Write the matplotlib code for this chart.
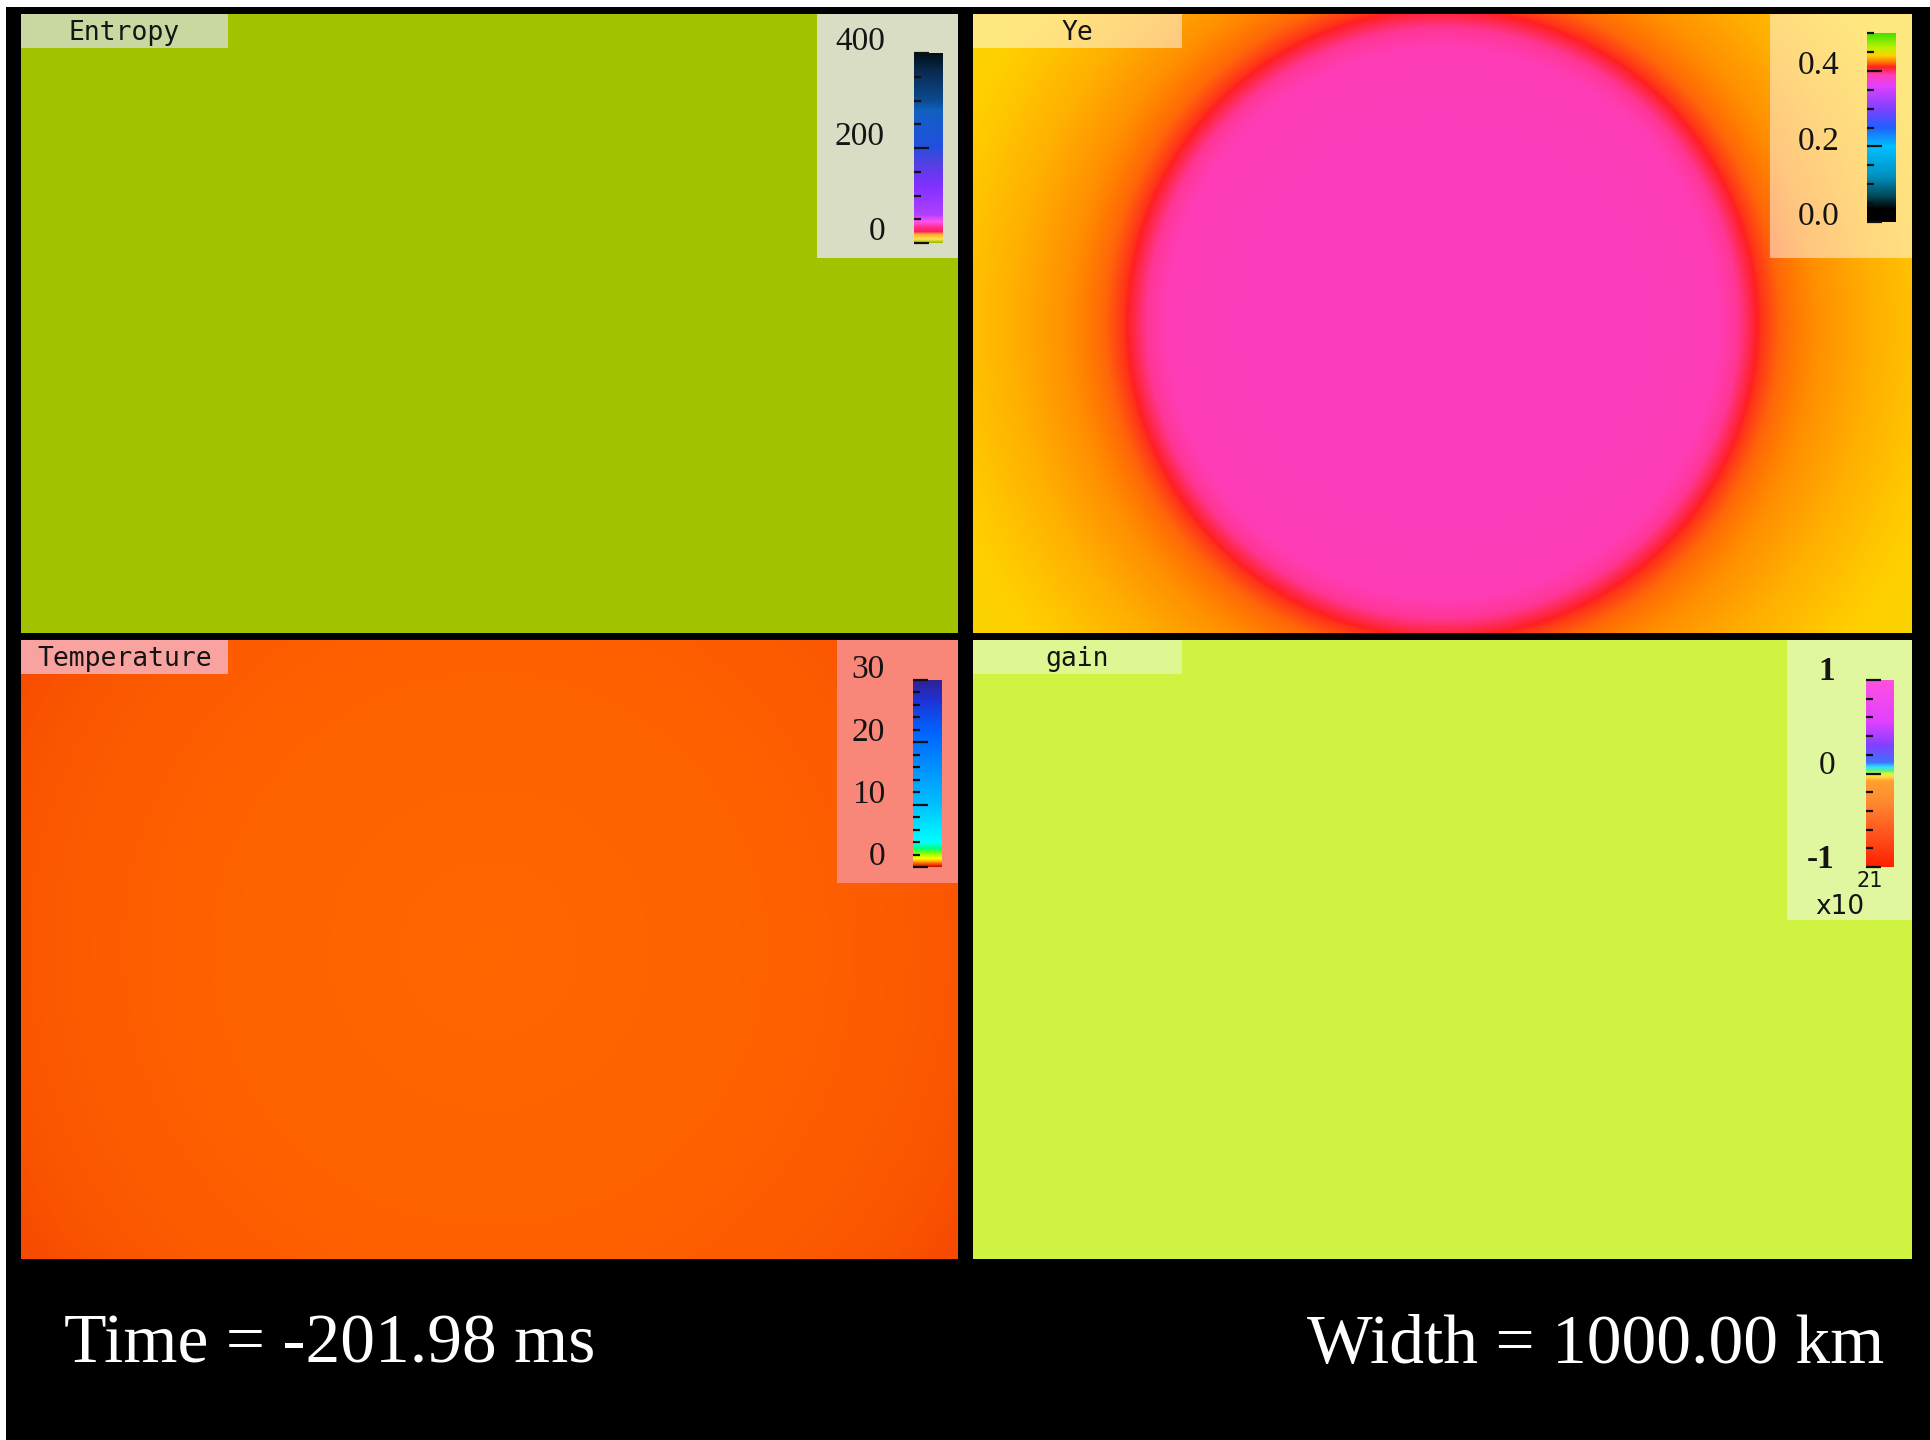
import numpy as np
import matplotlib
matplotlib.use("Agg")
import matplotlib.pyplot as plt
from matplotlib.colors import LinearSegmentedColormap, Normalize
from matplotlib.patches import Rectangle
from matplotlib import transforms

W, H = 1931, 1440

# domain shown in every panel (km)
half_width = 500.0
half_height = 330.0

# radial profiles, radius in km
ent_radius = [0, 300, 620]
ent_value = [1.5, 1.5, 1.5]

ye_radius = [0, 200, 290, 315, 328, 340, 360, 400, 460, 530, 620]
ye_value = [0.386, 0.387, 0.389, 0.394, 0.404, 0.413, 0.421, 0.428, 0.434, 0.439, 0.443]

temp_radius = [0, 200, 350, 450, 540, 620]
temp_value = [0.62, 0.61, 0.59, 0.56, 0.51, 0.43]

gain_radius = [0, 620]
gain_value = [0.0, 0.0]

# colour tables: (value, colour)
ent_nodes = [0, 1.5, 8, 18, 24, 34, 45, 60, 120, 170, 205, 280, 300, 360, 400]
ent_colors = ["#92b400", "#a3c400", "#ffe050", "#ffb030", "#ff2060", "#ff3090", "#ff50f0",
              "#b040ff", "#8030ff", "#5040e0", "#2050e0", "#1060c0", "#0a4a90", "#0a2a50", "#001018"]

ye_nodes = [0.0, 0.035, 0.07, 0.12, 0.2, 0.25, 0.3, 0.36, 0.39, 0.41, 0.425, 0.44, 0.46, 0.5]
ye_colors = ["#000000", "#000000", "#004a5a", "#0090c0", "#00c0ff", "#2060ff", "#8040ff",
             "#e040ff", "#ff3cb4", "#ff2020", "#ff8000", "#ffd000", "#c0f000", "#40e000"]

temp_nodes = [0, 0.35, 0.6, 1.0, 1.4, 2.2, 3.0, 4.0, 10, 16, 22, 27, 30]
temp_colors = ["#c00000", "#f03800", "#ff6200", "#ffc000", "#ffff00", "#80ff00", "#00ff80",
               "#00ffff", "#00c0ff", "#0090ff", "#0060ff", "#2030d0", "#302090"]

gain_nodes = [-1, -0.6, -0.3, -0.08, -0.03, 0.0, 0.03, 0.07, 0.12, 0.3, 0.55, 1.0]
gain_colors = ["#ff2000", "#ff5a20", "#ff8a30", "#ffa030", "#ffe040", "#d0f440", "#60f080",
               "#30e0ff", "#4070ff", "#8040ff", "#e040ff", "#ff50e0"]

time_label = "Time = -201.98 ms"
width_label = "Width = 1000.00 km"


def frac(x0, y0, x1, y1):
    # pixel box (top-left origin) -> figure fraction rect
    return [x0 / W, 1 - y1 / H, (x1 - x0) / W, (y1 - y0) / H]


def make_cmap(nodes, colors):
    lo, hi = nodes[0], nodes[-1]
    pos = [(v - lo) / (hi - lo) for v in nodes]
    return LinearSegmentedColormap.from_list("c", list(zip(pos, colors)), N=8192)


fig = plt.figure(figsize=(W / 100, H / 100), dpi=100, facecolor="white")
fig.add_artist(Rectangle((6 / W, 0), 1, 1 - 7 / H, transform=fig.transFigure,
                         facecolor="black", edgecolor="none", zorder=-5))

xs = np.linspace(-half_width, half_width, 700)
ys = np.linspace(-half_height, half_height, 460)
X, Y = np.meshgrid(xs, ys)
R = np.hypot(X, Y)


def panel(box, name, radius, value, nodes, colors, title_box, title_color, title_alpha,
          legend_box, legend_color, legend_alpha, cbar_box, major, labels, minor,
          pad, shift, major_len=11, bold=()):
    ax = fig.add_axes(frac(*box))
    ax.set_axis_off()
    cmap = make_cmap(nodes, colors)
    norm = Normalize(nodes[0], nodes[-1])
    field = np.interp(R, radius, value)
    im = ax.imshow(field, origin="lower", cmap=cmap, norm=norm, interpolation="bilinear",
                   extent=[-half_width, half_width, -half_height, half_height], aspect="auto")

    # title tab
    fig.add_artist(Rectangle(frac(*title_box)[:2], *frac(*title_box)[2:],
                             transform=fig.transFigure, facecolor=title_color,
                             alpha=title_alpha, edgecolor="none", zorder=2))
    fig.text((title_box[0] + title_box[2]) / 2 / W, 1 - (title_box[1] + title_box[3] + 4) / 2 / H,
             name, ha="center", va="center", fontsize=19, family="DejaVu Sans Mono",
             color="#141414", zorder=4)

    # legend backdrop
    fig.add_artist(Rectangle(frac(*legend_box)[:2], *frac(*legend_box)[2:],
                             transform=fig.transFigure, facecolor=legend_color,
                             alpha=legend_alpha, edgecolor="none", zorder=2))

    cax = fig.add_axes(frac(*cbar_box))
    cax.set_zorder(3)
    cb = fig.colorbar(im, cax=cax)
    cb.outline.set_visible(False)
    cax.yaxis.set_ticks_position("left")
    cax.set_yticks(major)
    cax.set_yticks(minor, minor=True)
    cax.set_yticklabels([])
    cax.tick_params(which="major", direction="in", length=major_len, width=1.6, color="#101010")
    cax.tick_params(which="minor", direction="in", length=5, width=1.6, color="#101010")
    tr = transforms.offset_copy(cax.get_yaxis_transform(), fig=fig, x=-pad, y=shift, units="dots")
    for v, s in zip(major, labels):
        cax.text(0, v, s, transform=tr, ha="right", va="center", fontsize=24,
                 family="Liberation Serif", color="#141414",
                 fontweight="bold" if s in bold else "normal", clip_on=False)
    return ax, cax


panel((21, 14, 958, 633), "Entropy", ent_radius, ent_value, ent_nodes, ent_colors,
      (21, 14, 228, 48), "#c9d8a0", 1.0,
      (817, 14, 958, 258), "#d9ddc3", 1.0,
      (914, 53, 943, 243), [0, 200, 400], ["0", "200", "400"],
      list(range(0, 401, 50)), pad=29, shift=11)

panel((973, 14, 1912, 633), "Ye", ye_radius, ye_value, ye_nodes, ye_colors,
      (973, 14, 1182, 48), "white", 0.5,
      (1770, 14, 1912, 258), "white", 0.5,
      (1867, 33, 1896, 222), [0.0, 0.2, 0.4], ["0.0", "0.2", "0.4"],
      list(np.arange(0, 0.51, 0.05)), pad=27, shift=5)

panel((21, 640, 958, 1259), "Temperature", temp_radius, temp_value, temp_nodes, temp_colors,
      (21, 640, 228, 674), "#f9a3a0", 1.0,
      (837, 640, 958, 883), "#f8877a", 1.0,
      (913, 680, 942, 867), [0, 10, 20, 30], ["0", "10", "20", "30"],
      list(range(0, 31, 2)), pad=28, shift=10)

panel((973, 640, 1912, 1259), "gain", gain_radius, gain_value, gain_nodes, gain_colors,
      (973, 640, 1182, 674), "#def792", 1.0,
      (1787, 640, 1912, 920), "#e0f7a0", 1.0,
      (1866, 680, 1894, 867), [-1, 0, 1], ["-1", "0", "1"],
      list(np.arange(-1, 1.01, 0.2)), pad=31, shift=8, bold=("-1", "1"))

# exponent of the gain scale
fig.text(1840 / W, 1 - 907 / H, "x10", ha="center", va="center", fontsize=19,
         family="DejaVu Sans", color="#141414", zorder=4)
fig.text(1870 / W, 1 - 881 / H, "21", ha="center", va="center", fontsize=15,
         family="DejaVu Sans", color="#141414", zorder=4)

fig.text(64 / W, 1 - 1346 / H, time_label, ha="left", va="center", fontsize=50,
         family="Liberation Serif", color="white")
fig.text(1884 / W, 1 - 1346 / H, width_label, ha="right", va="center", fontsize=50,
         family="Liberation Serif", color="white")

fig.savefig("out.png", dpi=100, facecolor=fig.get_facecolor())
